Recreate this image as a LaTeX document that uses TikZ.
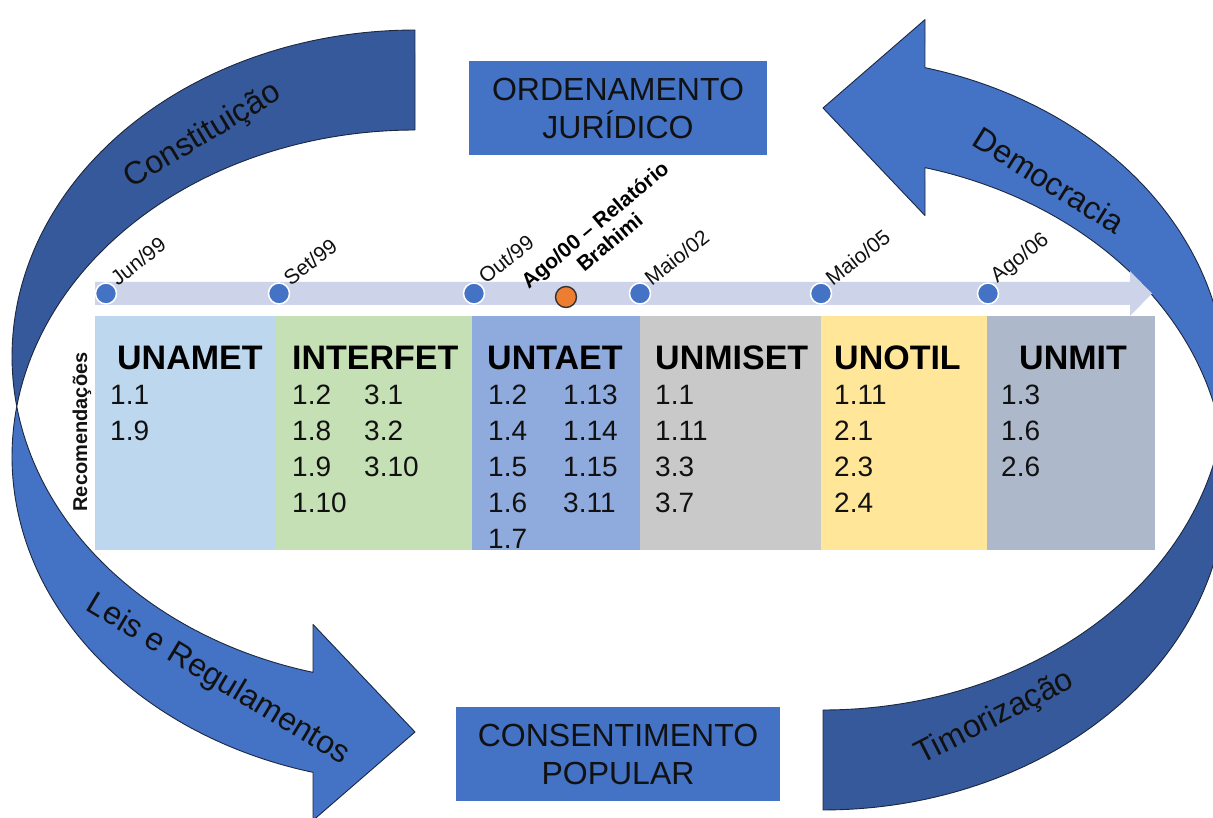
\documentclass[tikz,border=0pt]{standalone}
\usepackage{fontspec}
\setmainfont{Liberation Sans}
\definecolor{frontblue}{HTML}{4472C4}
\definecolor{backblue}{HTML}{35599B}
\definecolor{edgecol}{HTML}{1C2740}
\definecolor{barcol}{HTML}{CDD4EA}
\definecolor{colA}{HTML}{BDD7EE}
\definecolor{colB}{HTML}{C5E0B4}
\definecolor{colC}{HTML}{8FAADC}
\definecolor{colD}{HTML}{C9C9C9}
\definecolor{colE}{HTML}{FFE699}
\definecolor{colF}{HTML}{ADB9CA}
\definecolor{orangedot}{HTML}{ED7D31}
\definecolor{txt}{HTML}{111111}
\tikzset{
  frontband/.style={fill=frontblue, draw=edgecol, line width=0.9pt, line join=round},
  backband/.style={fill=backblue, draw=edgecol, line width=0.9pt, line join=round},
  bigbox/.style={fill=frontblue, text=txt, font=\fontsize{32}{38}\selectfont, align=center, inner sep=0pt},
  arclabel/.style={font=\fontsize{32}{38}\selectfont, text=txt, inner sep=0pt},
  datelabel/.style={font=\fontsize{21}{25}\selectfont, text=txt, rotate=38, anchor=south west, inner sep=0pt},
  tdot/.style={circle, fill=frontblue, draw=white, line width=1.5pt, minimum size=21pt, inner sep=0pt},
  head/.style={font=\bfseries\fontsize{34}{40}\selectfont, text=black, anchor=base west, inner sep=0pt},
  num/.style={font=\fontsize{28}{36}\selectfont, text=txt, anchor=base west, inner sep=0pt},
}
\newcommand{\curvedarrow}{%
  % back (dark) band
  \path[backband] plot[domain=171.19:270, samples=80] ({415+403*cos(\x)},{356.5+326.5*sin(\x)})
     -- plot[domain=270:188.81, samples=80] ({415+403*cos(\x)},{456.5+326.5*sin(\x)}) -- cycle;
  % front (light) band with arrow head
  \path[frontband] plot[domain=171.19:104.66, samples=80] ({415+403*cos(\x)},{356.5+326.5*sin(\x)})
     -- (313,624.4) -- (415,732) -- (313,820.4)
     -- plot[domain=104.66:188.81, samples=80] ({415+403*cos(\x)},{456.5+326.5*sin(\x)}) -- cycle;
}
\begin{document}
\begin{tikzpicture}[x=1pt,y=-1pt]
\useasboundingbox (0,0) rectangle (1213,818);
\clip (0,0) rectangle (1213,818);
\fill[white] (0,0) rectangle (1213,818);

% left circular arrow
\curvedarrow
% right circular arrow (rotated copy)
\begin{scope}[rotate around={180:(619,420)}]
\curvedarrow
\end{scope}

% labels on the big arrows
\node[arclabel, rotate=31] (constit) at (203,136) {Constituição};
\node[arclabel, rotate=-32] (democ) at (1049,180) {Democracia};
\node[arclabel, rotate=-31] (leis) at (218,680) {Leis e Regulamentos};
\node[arclabel, rotate=27] (timor) at (995,718) {Timorização};

% central boxes
\node[bigbox, minimum width=298pt, minimum height=94pt] (ord) at (618,108) {ORDENAMENTO\\JURÍDICO};
\node[bigbox, minimum width=324pt, minimum height=94pt] (cons) at (618,754) {CONSENTIMENTO\\POPULAR};

% timeline bar
\fill[barcol] (95,282) -- (1130,282) -- (1130,271) -- (1152,293.5) -- (1130,316) -- (1130,305) -- (95,305) -- cycle;

% table columns
\fill[colA] (95,316) rectangle (276,550);
\fill[colB] (276,316) rectangle (472,550);
\fill[colC] (472,316) rectangle (640,550);
\fill[colD] (640,316) rectangle (821,550);
\fill[colE] (821,316) rectangle (987,550);
\fill[colF] (987,316) rectangle (1155,550);

% timeline dots and dates
\node[tdot] (d1) at (106,293.5) {};
\node[tdot] (d2) at (279,293.5) {};
\node[tdot] (d3) at (474,293.5) {};
\node[tdot] (d5) at (640,293.5) {};
\node[tdot] (d6) at (821,293.5) {};
\node[tdot] (d7) at (988,293.5) {};
\node[circle, fill=orangedot, draw=black!80, line width=1.4pt, minimum size=21pt, inner sep=0pt] (d4) at (566,297) {};

\node[datelabel] (l1) at (118,287) {Jun/99};
\node[datelabel] (l2) at (291,287) {Set/99};
\node[datelabel] (l3) at (486,285) {Out/99};
\node[datelabel] (l5) at (652,287) {Maio/02};
\node[datelabel] (l6) at (833,287) {Maio/05};
\node[datelabel] (l7) at (1000,287) {Ago/06};
\node[font=\bfseries\fontsize{21}{23}\selectfont, text=black, rotate=40, align=center, inner sep=0pt] (brahimi) at (602,233) {Ago/00 – Relatório\\Brahimi};

% vertical label
\node[font=\bfseries\fontsize{20}{23}\selectfont, text=txt, rotate=90, inner sep=0pt] (recom) at (82,432) {Recomendações};

% headers
\node[head] (h1) at (117,369) {UNAMET};
\node[head] (h2) at (292,369) {INTERFET};
\node[head] (h3) at (487,369) {UNTAET};
\node[head] (h4) at (655,369) {UNMISET};
\node[head] (h5) at (834,369) {UNOTIL};
\node[head] (h6) at (1019,369) {UNMIT};

% recommendation numbers
\foreach \t [count=\i] in {1.1,1.9} \node[num] (a\i) at (110,{404+36*(\i-1)}) {\t};
\foreach \t [count=\i] in {1.2,1.8,1.9,1.10} \node[num] (b\i) at (292,{404+36*(\i-1)}) {\t};
\foreach \t [count=\i] in {3.1,3.2,3.10} \node[num] (bb\i) at (364,{404+36*(\i-1)}) {\t};
\foreach \t [count=\i] in {1.2,1.4,1.5,1.6,1.7} \node[num] (c\i) at (488,{404+36*(\i-1)}) {\t};
\foreach \t [count=\i] in {1.13,1.14,1.15,3.11} \node[num] (cc\i) at (563,{404+36*(\i-1)}) {\t};
\foreach \t [count=\i] in {1.1,1.11,3.3,3.7} \node[num] (e\i) at (655,{404+36*(\i-1)}) {\t};
\foreach \t [count=\i] in {1.11,2.1,2.3,2.4} \node[num] (f\i) at (834,{404+36*(\i-1)}) {\t};
\foreach \t [count=\i] in {1.3,1.6,2.6} \node[num] (g\i) at (1001,{404+36*(\i-1)}) {\t};
\end{tikzpicture}
\end{document}
